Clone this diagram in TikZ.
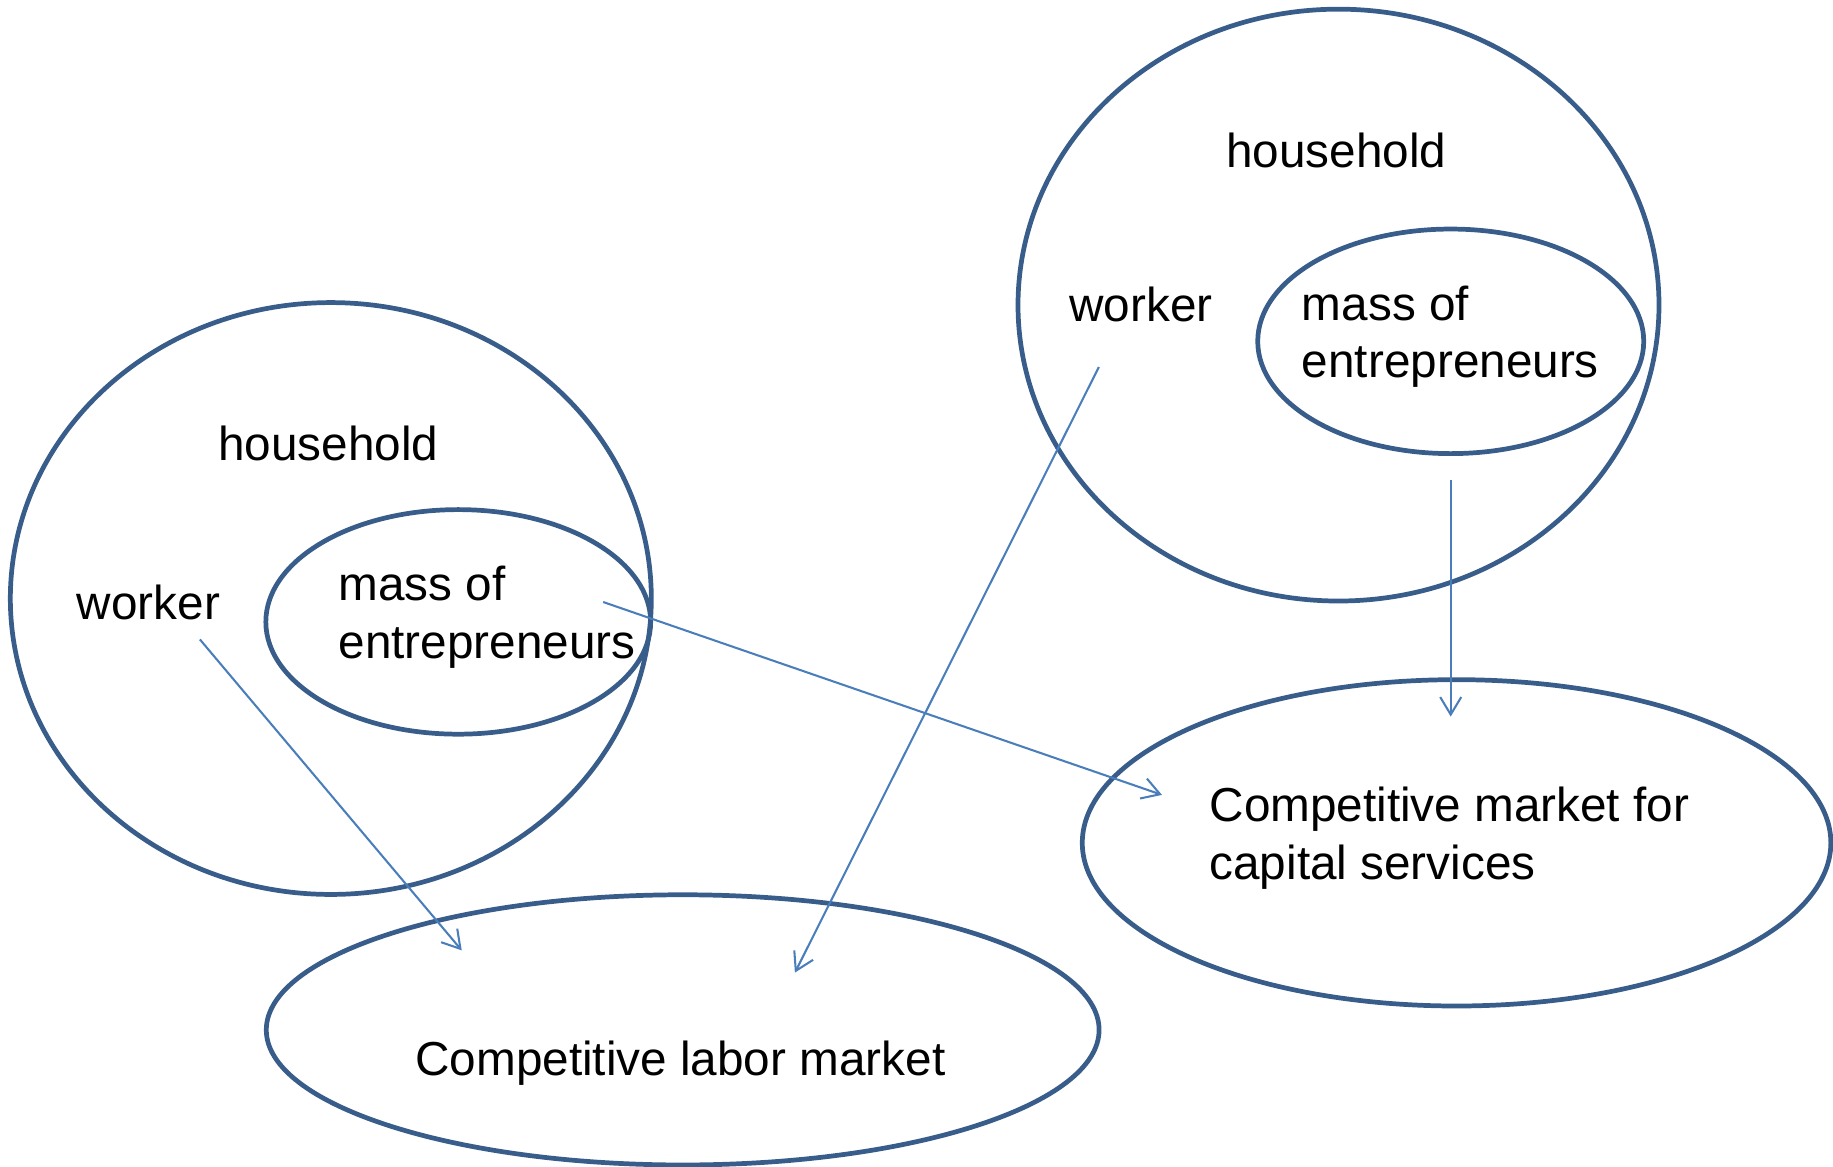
\documentclass[tikz,border=0pt]{standalone}
\usepackage{fontspec}
\setmainfont{Liberation Sans}
\usetikzlibrary{arrows.meta,shapes.geometric}

\begin{document}
\begin{tikzpicture}[x=0.01cm,y=-0.01cm]
% ------------------------------------------------ diagram colors
\definecolor{hh_line}{RGB}{56,93,138}    %#385D8A
\definecolor{hh_arrow}{RGB}{74,126,187}  %#4A7EBB

\tikzset{
  oval/.style={ellipse,draw=hh_line,line width=1.15pt,inner sep=0},
  lbl/.style={inner sep=0,font=\fontsize{11.6pt}{13.9pt}\selectfont},
  flow/.style={hh_arrow,line width=0.5pt,-{Straight Barb[length=1.5mm,width=1.8mm]}}
}
\useasboundingbox (0,0) rectangle (1568,998);

% ------------------------------------------------ left household
\node[oval,minimum width=5.48cm,minimum height=5.06cm] (hhL) at (283,512) {};
\node[oval,minimum width=3.29cm,minimum height=1.92cm] (entL) at (392,532) {};
\node[lbl,anchor=base] (hhLtxt) at (281,394) {household};
\node[lbl,anchor=base] (wkL) at (127,530) {worker};
\node[lbl,anchor=west,align=left] (entLtxt) at (289,528) {mass of\\entrepreneurs};

% ------------------------------------------------ right household
\node[oval,minimum width=5.48cm,minimum height=5.06cm] (hhR) at (1145,261) {};
\node[oval,minimum width=3.30cm,minimum height=1.92cm] (entR) at (1241,292) {};
\node[lbl,anchor=base] (hhRtxt) at (1143,143) {household};
\node[lbl,anchor=base] (wkR) at (976,275) {worker};
\node[lbl,anchor=west,align=left] (entRtxt) at (1113,288) {mass of\\entrepreneurs};

% ------------------------------------------------ markets
\node[oval,minimum width=6.40cm,minimum height=2.79cm] (capM) at (1246,721) {};
\node[lbl,anchor=west,align=left] (capMtxt) at (1034,717) {Competitive market for\\capital services};
\node[oval,minimum width=7.12cm,minimum height=2.31cm] (labM) at (584,881) {};
\node[lbl,anchor=base] (labMtxt) at (582,920) {Competitive labor market};

% ------------------------------------------------ flows
\coordinate (wkLout) at (171,547);
\coordinate (labLin) at (395,813);
\coordinate (entLout) at (516,515);
\coordinate (capLin) at (994,680);
\coordinate (wkRout) at (940,314);
\coordinate (labRin) at (680,832);
\coordinate (entRout) at (1241,411);
\coordinate (capRin) at (1241,613);

\draw[flow] (wkLout) -- (labLin);
\draw[flow] (entLout) -- (capLin);
\draw[flow] (wkRout) -- (labRin);
\draw[flow] (entRout) -- (capRin);

\end{tikzpicture}
\end{document}
